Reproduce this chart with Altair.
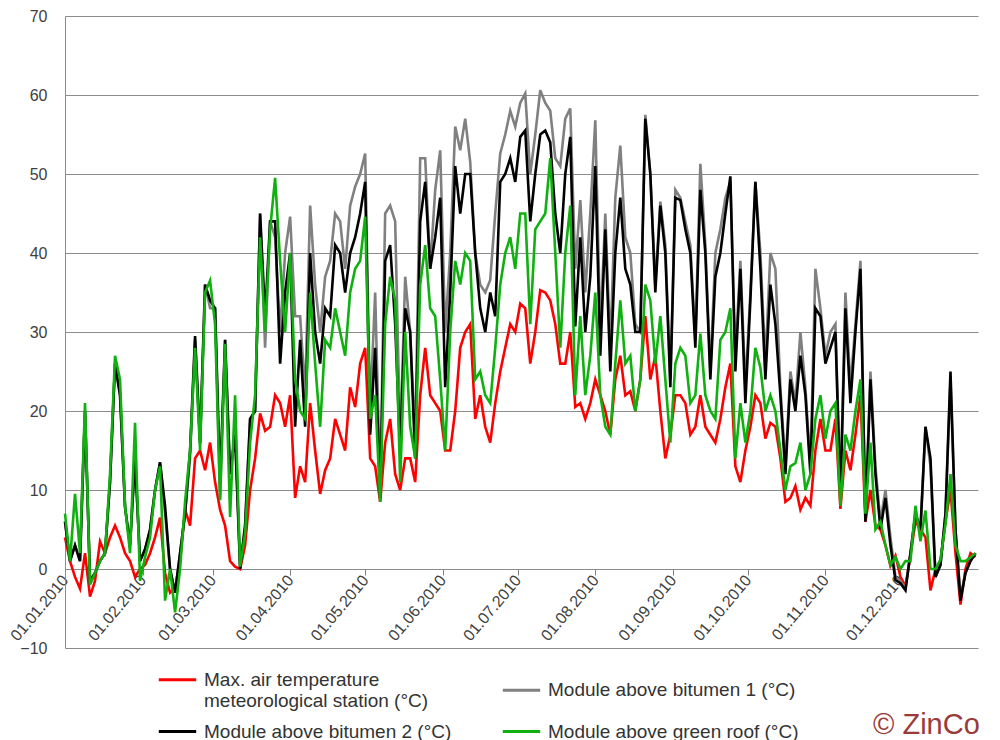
import altair as alt
import pandas as pd

# values every second day, 01.01.2010 ... 31.12.2010
red = [4, 1, -1, -2.5, 2, -3.5, -1.5, 3.5, 2, 4,
       5.5, 4, 2, 1, -1, 0, 0.5, 2, 4, 6.5,
       -0.5, -3, -2.5, 1, 7.5, 5.5, 14, 15, 12.5, 16,
       11, 7.5, 5.5, 1, 0.3, 0, 3, 10, 14, 19.7,
       17.5, 18, 22, 21, 18, 22, 9, 13, 11, 21,
       15, 9.5, 12.5, 14, 19, 17, 15, 23, 20.5, 26,
       28, 14, 13, 8.5, 16, 19, 12, 10, 14, 14,
       11, 22, 28, 22, 21, 20, 15, 15, 20, 28,
       30, 31, 19, 22, 18, 16, 21, 25, 28, 31,
       30, 33.6, 33, 26, 30, 35.3, 35, 34, 31, 26,
       26, 30, 20.5, 21, 19, 21, 24, 22, 20, 17,
       24, 27, 22, 22.5, 20, 24, 32, 24, 27, 20,
       14, 17, 22, 22, 21, 17, 18, 22, 18, 17,
       16, 19, 23, 26, 13, 11, 15, 18, 22, 21,
       16.5, 18.5, 18, 14, 8.5, 9, 10.5, 7.5, 9, 8,
       15, 19, 15, 15, 19, 7.6, 15, 12.5, 17, 22,
       6, 10, 5.5, 5, 3, 0.4, 1.7, -1, -2.2, 1.7,
       6, 5, 4, -2.7, 0, 1, 6, 10, 2, -4.5,
       0, 2, 1.5]

gray = [6, 1, 3, 1, 20, -1.5, -0.5, 1, 2, 11,
        26, 22, 8, 3, 14, 1, 2.5, 5, 10, 13.5,
        7, 0, -3, 2, 7, 14, 29, 16, 36, 33,
        33, 9, 29, 12, 17, 0.5, 5.5, 19, 20, 45,
        28, 44, 42, 30, 40, 44.6, 32, 32, 22, 46,
        36, 30, 37, 39, 45, 44, 38, 46, 48.4, 50,
        52.6, 20, 35, 10, 45, 46, 44, 16, 37, 30,
        16, 52, 52, 38, 48, 53, 30, 40, 56, 53,
        57, 51.5, 40, 36, 35, 36.6, 45, 52.6, 55, 58,
        56, 59, 60.2, 50, 55, 60.6, 59, 58, 52, 51,
        57, 58.3, 38, 46.7, 35, 45, 56.8, 30, 45, 28,
        47, 53.6, 42, 40, 31, 30, 57.5, 50, 36, 46.5,
        41, 24, 48, 47, 44, 41, 29, 51.3, 41, 25,
        40, 43, 47, 49, 27, 39, 23, 35, 49, 40,
        26, 40, 38, 23, 13, 25, 21, 30, 23, 13,
        38, 33, 27, 30, 31, 10, 35, 23, 31, 39,
        7, 25, 13, 6, 10, 4, -1, -1.5, -2.5, 2,
        7, 5, 18, 13, -1, 0.5, 7, 24, 5, -3.5,
        -0.5, 1, 2]

black = [6, 1, 3, 1, 20, -1.5, -0.5, 1, 2, 11,
         26, 22, 7.8, 3, 14, 1, 2.5, 5, 10, 13.5,
         8, 0, -3, 2, 7, 15, 29.5, 16, 36, 34,
         33, 11, 29, 12, 17, 0, 5.5, 19, 20, 45,
         32, 44, 44, 26, 35, 40, 18, 29, 18, 40,
         30, 26, 33, 32, 41, 40, 35, 40, 42, 45,
         49, 17, 28, 9, 39, 41, 31, 14.6, 33, 30,
         14, 44, 49, 38, 42, 47, 23, 35, 51, 45,
         50, 50, 40, 33, 30, 35, 32, 49, 50, 52,
         49, 54.7, 55.5, 44, 50, 55, 55.5, 54, 45, 40,
         50, 54.7, 30.7, 42, 30, 37, 51, 27, 43, 25,
         40, 47, 38, 36, 30, 30, 57, 50, 35, 46,
         40, 23, 47, 46.7, 43, 40, 28, 48, 40, 24,
         37, 40, 45, 49.7, 25, 38, 21, 34, 49, 38,
         24, 36, 31, 22, 12, 24, 20, 27, 22, 12,
         33, 32, 26, 28, 30, 9, 33, 21, 30, 38,
         6, 24, 12, 5, 9, 3, -1.4, -1.8, -2.7, 2,
         7, 5, 18, 14, -1, 0.5, 7, 25, 5, -4,
         -0.5, 1, 2]

green = [7, 1, 9.5, 2, 21, -2, -0.5, 1, 2, 12,
         27, 24, 8, 2, 18.5, -1.5, 1.5, 4, 10, 13,
         -4, 0, -5.5, 0, 8.5, 15, 28, 15, 35, 36.5,
         31, 8.7, 28.5, 6.6, 22, 0.3, 4.5, 16, 22, 42,
         30, 43, 49.5, 39, 30, 40, 24, 20, 19, 35,
         26, 18, 29, 28, 33, 30, 27, 35, 38, 39,
         44.6, 19, 22, 8.5, 31, 37, 34, 11, 30, 18,
         14, 36, 41, 33, 32, 24, 15, 30, 39, 36,
         40, 39, 24, 25, 22, 21, 28, 36, 40, 42,
         38, 45, 45, 31, 43, 44, 45, 52, 40, 28,
         40, 46, 22, 32, 22, 27, 35, 22, 18, 17,
         26, 34, 26, 27, 20, 24, 36, 34, 26, 32,
         24, 16, 26, 28, 27, 21, 22, 29.8, 22, 20,
         19, 29, 30, 33, 14, 21, 16, 20, 28, 25.5,
         20, 22, 20, 15, 10, 13, 13.4, 16, 10, 12,
         19, 22, 16.5, 20, 21, 8, 17, 15, 20, 24,
         7, 16, 5, 6, 3, 0.5, 1.5, 0, 1, 1,
         8, 3.5, 7.4, 0, 0, 1.2, 5.7, 12, 3, 1,
         1, 1.5, 2]

names = ["Max. air temperature meteorological station (°C)",
         "Module above bitumen 1 (°C)",
         "Module above bitumen 2 (°C)",
         "Module above green roof (°C)"]
colors = ["#ff0000", "#808080", "#000000", "#10b010"]
month_ticks = [alt.DateTime(year=2010, month=m, date=1, utc=True) for m in range(1, 13)]

dates = pd.date_range("2010-01-01", periods=len(red), freq="2D").strftime("%Y-%m-%d").tolist()
rows = []
for nm, vals in zip(names, [red, gray, black, green]):
    for d, v in zip(dates, vals):
        rows.append({"date": d, "value": v, "series": nm})
df = pd.DataFrame(rows)

FONT = "Liberation Sans"

lines = alt.Chart(df).mark_line(strokeWidth=2.6, clip=False).encode(
    x=alt.X("date:T",
            scale=alt.Scale(type="utc",
                            domain=[alt.DateTime(year=2010, month=1, date=1, utc=True),
                                    alt.DateTime(year=2011, month=1, date=1, utc=True)]),
            axis=alt.Axis(values=month_ticks, format="%d.%m.%Y", labelAngle=-50,
                          labelAlign="right", labelBaseline="middle", offset=-79,
                          domain=False, grid=False, ticks=True, tickSize=6,
                          tickColor="#808080", labelFontSize=16, labelColor="#404040",
                          labelFont=FONT, labelPadding=2, labelOverlap=False,
                          labelFlush=False, title=None)),
    y=alt.Y("value:Q", scale=alt.Scale(domain=[-10, 70], nice=False),
            axis=alt.Axis(values=list(range(-10, 71, 10)), grid=True,
                          gridColor="#8c8c8c", gridWidth=1, domain=True,
                          domainColor="#8c8c8c", ticks=False, labelFontSize=16,
                          labelColor="#404040", labelFont=FONT, labelPadding=18,
                          title=None)),
    color=alt.Color("series:N", sort=names,
                    scale=alt.Scale(domain=names, range=colors),
                    legend=alt.Legend(title=None, orient="none", legendX=92, legendY=643,
                                      direction="horizontal", columns=2,
                                      symbolType="stroke", symbolSize=1400,
                                      symbolStrokeWidth=3, labelFontSize=19,
                                      labelFont=FONT, labelColor="#333333",
                                      labelLimit=400, columnPadding=44, rowPadding=-10,
                                      labelOffset=6,
                                      labelExpr="datum.label == 'Max. air temperature meteorological station (°C)' ? ['Max. air temperature', 'meteorological station (°C)'] : datum.label")),
    detail="series:N",
)

logo = alt.Chart(pd.DataFrame({"t": ["© ZinCo"]})).mark_text(
    align="left", baseline="alphabetic", fontSize=29, font=FONT, color="#9a3a3a"
).encode(text="t:N", x=alt.value(808), y=alt.value(718))

chart = alt.layer(lines, logo).properties(
    width=913, height=632,
    padding={"left": 57, "top": 8, "right": 14, "bottom": 96},
    autosize=alt.AutoSizeParams(type="none"),
).configure_view(stroke=None)

chart.save("out.html", embed_options={"renderer": "svg", "actions": False})
